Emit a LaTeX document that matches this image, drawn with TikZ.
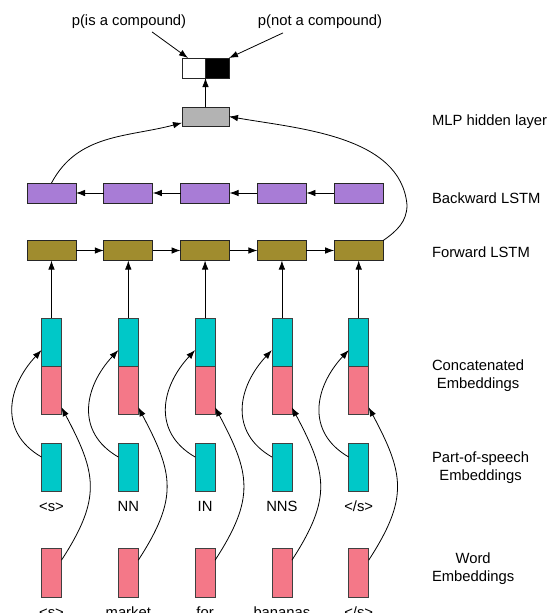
\documentclass[tikz,border=0pt]{standalone}
\usepackage{fontspec}
\setmainfont{Liberation Sans}
\usetikzlibrary{positioning}
\usetikzlibrary{arrows.meta}

\definecolor{bwdcol}{RGB}{168,124,214}
\definecolor{fwdcol}{RGB}{160,140,46}
\definecolor{poscol}{RGB}{0,200,200}
\definecolor{wordcol}{RGB}{244,120,136}
\definecolor{mlpcol}{RGB}{179,179,179}

\begin{document}
\begin{tikzpicture}[x=1pt,y=1pt,
      font=\fontsize{14.8}{18}\selectfont,
      every node/.style={inner sep=0pt,outer sep=0pt},
      cell/.style={draw=black!85,line width=0.8pt,minimum width=49pt,minimum height=20pt},
      fwdcell/.style={cell,fill=fwdcol},
      bwdcell/.style={cell,fill=bwdcol},
      vec/.style={draw=black!75,line width=0.8pt,minimum width=20pt,minimum height=48pt},
      posvec/.style={vec,fill=poscol},
      wordvec/.style={vec,fill=wordcol,minimum height=49pt},
      layer/.style={anchor=west,align=center},
      tag/.style={anchor=base},
      link/.style={-{Latex[length=9pt,width=6.5pt]},line width=0.8pt},
      ]
    \useasboundingbox (0,0) rectangle (549,-613);

    \node (lblis) at (129,-22) {p(is a compound)};
    \node (lblnot) at (320,-22) {p(not a compound)};
    \node[draw=black!85,line width=0.8pt,minimum width=23.5pt,minimum height=20pt,fill=white] (pis) at (193.75,-68) {};
    \node[draw=black!85,line width=0.8pt,minimum width=23.5pt,minimum height=20pt,fill=black,right=0pt of pis] (pnot) {};
    \node[cell,fill=mlpcol,minimum width=47pt,minimum height=19pt] (mlp) at (205.5,-116.5) {};

    \node[bwdcell] (bwd1) at (51.5,-193) {};
    \node[bwdcell,right=27.8pt of bwd1] (bwd2) {};
    \node[bwdcell,right=27.8pt of bwd2] (bwd3) {};
    \node[bwdcell,right=27.8pt of bwd3] (bwd4) {};
    \node[bwdcell,right=27.8pt of bwd4] (bwd5) {};

    \node[fwdcell] (fwd1) at (51.5,-250.5) {};
    \node[fwdcell,right=27.8pt of fwd1] (fwd2) {};
    \node[fwdcell,right=27.8pt of fwd2] (fwd3) {};
    \node[fwdcell,right=27.8pt of fwd3] (fwd4) {};
    \node[fwdcell,right=27.8pt of fwd4] (fwd5) {};

    \node[posvec] (cpos1) at (51.5,-342) {};
    \node[posvec,right=56.8pt of cpos1] (cpos2) {};
    \node[posvec,right=56.8pt of cpos2] (cpos3) {};
    \node[posvec,right=56.8pt of cpos3] (cpos4) {};
    \node[posvec,right=56.8pt of cpos4] (cpos5) {};
    \node[wordvec,minimum height=48pt,below=0pt of cpos1] (cword1) {};
    \node[wordvec,minimum height=48pt,below=0pt of cpos2] (cword2) {};
    \node[wordvec,minimum height=48pt,below=0pt of cpos3] (cword3) {};
    \node[wordvec,minimum height=48pt,below=0pt of cpos4] (cword4) {};
    \node[wordvec,minimum height=48pt,below=0pt of cpos5] (cword5) {};

    \node[posvec] (pos1) at (51.5,-467) {};
    \node[posvec,right=56.8pt of pos1] (pos2) {};
    \node[posvec,right=56.8pt of pos2] (pos3) {};
    \node[posvec,right=56.8pt of pos3] (pos4) {};
    \node[posvec,right=56.8pt of pos4] (pos5) {};
    \node[tag] (postag1) at (51.5,-511) {<s>};
    \node[tag] (postag2) at (128.3,-511) {NN};
    \node[tag] (postag3) at (205.1,-511) {IN};
    \node[tag] (postag4) at (281.9,-511) {NNS};
    \node[tag] (postag5) at (358.7,-511) {</s>};

    \node[wordvec] (word1) at (51.5,-572.5) {};
    \node[wordvec,right=56.8pt of word1] (word2) {};
    \node[wordvec,right=56.8pt of word2] (word3) {};
    \node[wordvec,right=56.8pt of word3] (word4) {};
    \node[wordvec,right=56.8pt of word4] (word5) {};
    \node[tag] (wordtag1) at (51.5,-617) {<s>};
    \node[tag] (wordtag2) at (128.3,-617) {market};
    \node[tag] (wordtag3) at (205.1,-617) {for};
    \node[tag] (wordtag4) at (281.9,-617) {bananas};
    \node[tag] (wordtag5) at (358.7,-617) {</s>};

    \node[layer] (lblmlp) at (432,-122) {MLP hidden layer};
    \node[layer] (lblbwd) at (432,-198) {Backward LSTM};
    \node[layer] (lblfwd) at (432,-252) {Forward LSTM};
    \node[layer] (lblcat) at (432,-376) {Concatenated\\Embeddings};
    \node[layer] (lblpos) at (432,-468) {Part-of-speech\\Embeddings};
    \node[layer] (lblword) at (432,-569) {Word\\Embeddings};

    \draw[link] ([xshift=23pt,yshift=-3pt]lblis.south) -- (pis.120);
    \draw[link] ([xshift=-37pt,yshift=-4pt]lblnot.south) -- (pnot.north east);
    \draw[link] (mlp) -- (pis.south east);
    \draw[link] (bwd1.north) to[out=62,in=195] (mlp.195);
    \coordinate (turn) at (407,-205);
    \draw[link] (fwd5.north east) to[out=35,in=-90] (turn) to[out=95,in=-10,looseness=0.9] (mlp.east);

    \draw[link] (bwd2) -- (bwd1);
    \draw[link] (bwd3) -- (bwd2);
    \draw[link] (bwd4) -- (bwd3);
    \draw[link] (bwd5) -- (bwd4);
    \draw[link] (fwd1) -- (fwd2);
    \draw[link] (fwd2) -- (fwd3);
    \draw[link] (fwd3) -- (fwd4);
    \draw[link] (fwd4) -- (fwd5);

    \draw[link] (cpos1) -- (fwd1);
    \draw[link] (cpos2) -- (fwd2);
    \draw[link] (cpos3) -- (fwd3);
    \draw[link] (cpos4) -- (fwd4);
    \draw[link] (cpos5) -- (fwd5);

    \draw[link] (pos1.135) to[out=150,in=227,looseness=1.2] (cpos1.219);
    \draw[link] (pos2.135) to[out=150,in=227,looseness=1.2] (cpos2.219);
    \draw[link] (pos3.135) to[out=150,in=227,looseness=1.2] (cpos3.219);
    \draw[link] (pos4.135) to[out=150,in=227,looseness=1.2] (cpos4.219);
    \draw[link] (pos5.135) to[out=150,in=227,looseness=1.2] (cpos5.219);

    \draw[link] (word1.51) to[out=57,in=-62,looseness=1.25] (cword1.-60);
    \draw[link] (word2.51) to[out=57,in=-62,looseness=1.25] (cword2.-60);
    \draw[link] (word3.51) to[out=57,in=-62,looseness=1.25] (cword3.-60);
    \draw[link] (word4.51) to[out=57,in=-62,looseness=1.25] (cword4.-60);
    \draw[link] (word5.51) to[out=57,in=-62,looseness=1.25] (cword5.-60);
\end{tikzpicture}
\end{document}
